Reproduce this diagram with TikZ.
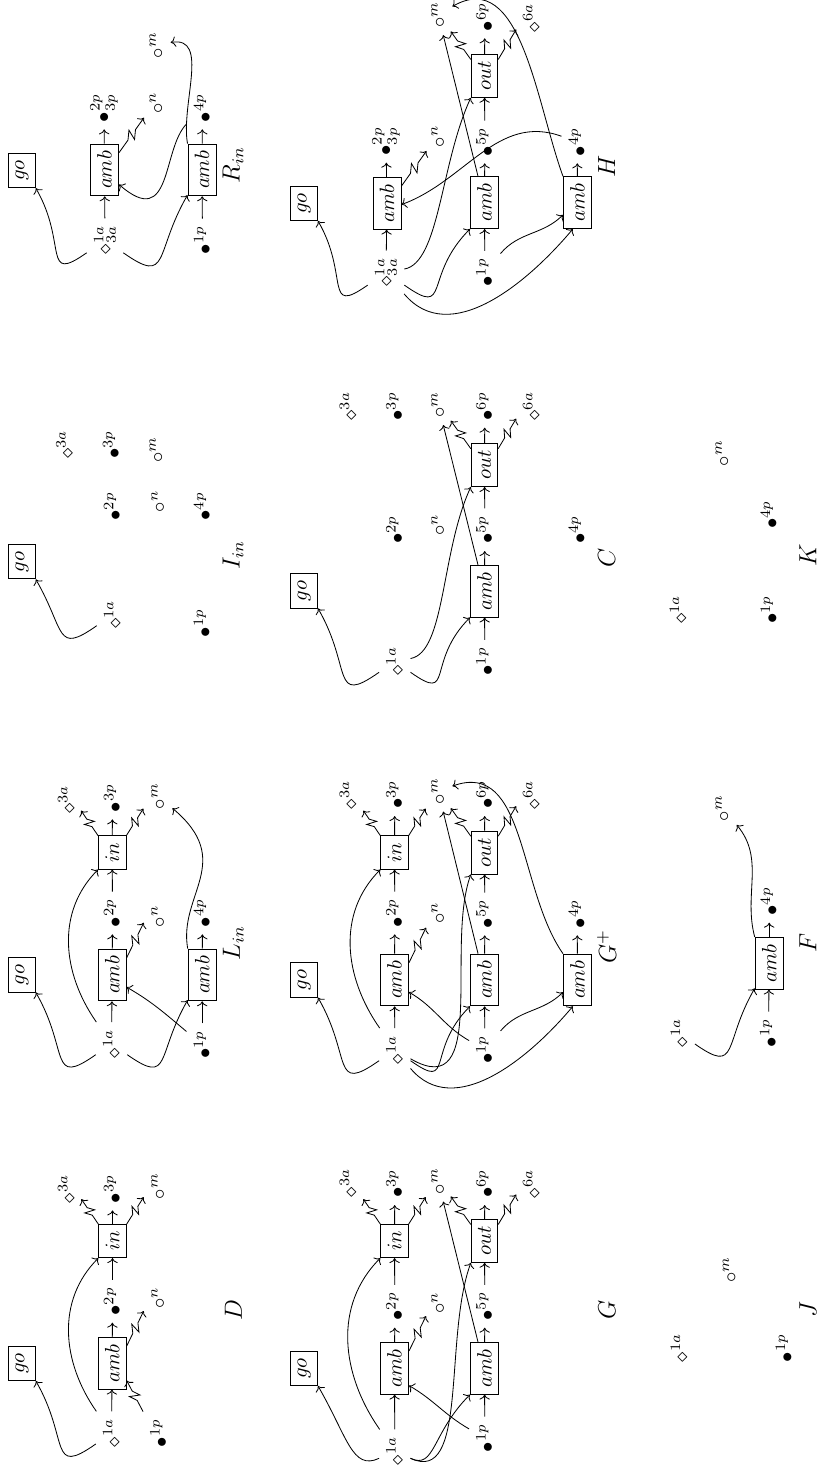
\documentclass[tikz,border=0pt]{standalone}
\usetikzlibrary{calc,arrows.meta}
\begin{document}
\begin{tikzpicture}[x=0.4831pt, y=0.4831pt, rotate=90, transform shape,
  >={Computer Modern Rightarrow[length=2.4pt,width=5pt]},
  box/.style={draw, inner sep=3.33pt},
  lab/.style={inner sep=3.33pt},
  ttl/.style={font=\fontsize{12}{14}\selectfont, inner sep=1pt},
  zz/.style={->, to path={-- ($(\tikztostart)!0.36!(\tikztotarget)$)
     -- ($(\tikztostart)!0.56!(\tikztotarget)!2.4pt!90:(\tikztotarget)$)
     -- ($(\tikztostart)!0.46!(\tikztotarget)!2.4pt!-90:(\tikztotarget)$)
     -- ($(\tikztostart)!0.66!(\tikztotarget)$) -- (\tikztotarget)}},
  hookup/.style={out=125, in=210, out looseness=1.7, in looseness=2},
  hookdn/.style={out=-125, in=150, out looseness=1.7, in looseness=2}]
\useasboundingbox (0,0) rectangle (1466,-821);

% ---------------- D
\node[box] (D-go) at (102.7,-22) {$go$};
\node[lab] (D-a1) at (33,-111.5) {$\diamond^{1a}$};
\node[box] (D-amb) at (102.7,-112.2) {$amb$};
\node[lab] (D-p2) at (164.7,-112.5) {$\bullet^{2p}$};
\node[box] (D-in) at (225,-112.5) {$in$};
\node[lab] (D-p3) at (277,-112.5) {$\bullet^{3p}$};
\node[lab] (D-a3) at (277,-66.5) {$\diamond^{3a}$};
\node[lab] (D-m) at (279.7,-158.2) {$\circ^{m}$};
\node[lab] (D-n) at (168,-158.2) {$\circ^{n}$};
\node[lab] (D-p1) at (33,-158.8) {$\bullet^{1p}$};
\node[ttl] (D-t) at (156,-233.3) {$D$};
\coordinate (D-z1) at ($(D-amb.-40)+(35,-17)$);
\coordinate (D-z2) at ($(D-in.40)+(25,17)$);
\coordinate (D-z3) at ($(D-in.-40)+(27,-17)$);
\draw[->] (D-a1) -- (D-amb);
\draw[->] (D-amb) -- (D-p2);
\draw[->] (D-p2) -- (D-in);
\draw[->] (D-in) -- (D-p3);
\draw[->] (D-a1) to[hookup] (D-go.south west);
\draw[->] (D-a1) to[out=35,in=135] (D-in.north west);
\draw[zz] (D-amb.-40) to (D-z1);
\draw[zz] (D-in.40) to (D-z2);
\draw[zz] (D-in.-40) to (D-z3);
\draw[zz] (D-p1.north east) to (D-amb.-140);

% ---------------- L_in
\node[box] (L-go) at (491.2,-22) {$go$};
\node[lab] (L-a1) at (422.3,-111.5) {$\diamond^{1a}$};
\node[box] (L-amb1) at (491,-112.2) {$amb$};
\node[lab] (L-p2) at (553,-112.5) {$\bullet^{2p}$};
\node[box] (L-in) at (613.5,-112.2) {$in$};
\node[lab] (L-p3) at (668,-112.5) {$\bullet^{3p}$};
\node[lab] (L-a3) at (666.3,-66.5) {$\diamond^{3a}$};
\node[lab] (L-m) at (669.7,-158.2) {$\circ^{m}$};
\node[lab] (L-n) at (549.7,-158.2) {$\circ^{n}$};
\node[lab] (L-p1) at (421.3,-202.2) {$\bullet^{1p}$};
\node[box] (L-amb2) at (491,-202.2) {$amb$};
\node[lab] (L-p4) at (553,-202.5) {$\bullet^{4p}$};
\node[ttl] (L-t) at (522.7,-233.3) {$L_{in}$};
\coordinate (L-z1) at ($(L-amb1.-40)+(35,-17)$);
\coordinate (L-z2) at ($(L-in.40)+(25,17)$);
\coordinate (L-z3) at ($(L-in.-40)+(27,-17)$);
\draw[->] (L-a1) -- (L-amb1);
\draw[->] (L-amb1) -- (L-p2);
\draw[->] (L-p2) -- (L-in);
\draw[->] (L-in) -- (L-p3);
\draw[->] (L-p1) -- (L-amb2);
\draw[->] (L-amb2) -- (L-p4);
\draw[->] (L-a1) to[hookup] (L-go.south west);
\draw[->] (L-a1) to[out=35,in=135] (L-in.north west);
\draw[->] (L-a1) to[hookdn] (L-amb2.150);
\draw[->] (L-p1) to[out=50,in=-120] (L-amb1.-130);
\draw[->] (L-amb2.north east) to[out=10,in=230,in looseness=1.5] (L-m);
\draw[zz] (L-amb1.-40) to (L-z1);
\draw[zz] (L-in.40) to (L-z2);
\draw[zz] (L-in.-40) to (L-z3);

% ---------------- I_in
\node[box] (I-go) at (904.3,-22) {$go$};
\node[lab] (I-a1) at (851.3,-112.5) {$\diamond^{1a}$};
\node[lab] (I-p2) at (959.7,-112.5) {$\bullet^{2p}$};
\node[lab] (I-p3) at (1021.3,-111.5) {$\bullet^{3p}$};
\node[lab] (I-a3) at (1021.3,-64.8) {$\diamond^{3a}$};
\node[lab] (I-n) at (964.7,-158.2) {$\circ^{n}$};
\node[lab] (I-m) at (1016.3,-156.5) {$\circ^{m}$};
\node[lab] (I-p1) at (843,-202.2) {$\bullet^{1p}$};
\node[lab] (I-p4) at (959.7,-202.5) {$\bullet^{4p}$};
\node[ttl] (I-t) at (911,-233) {$I_{in}$};
\draw[->] (I-a1) to[hookup] (I-go.south west);

% ---------------- R_in
\node[box] (R-go) at (1295.5,-22) {$go$};
\node[lab] (R-a13) at (1226,-105) {$\diamond^{1a}_{3a}$};
\node[box] (R-amb1) at (1296,-104.5) {$amb$};
\node[lab] (R-p23) at (1358,-104) {$\bullet^{2p}_{3p}$};
\node[lab] (R-n) at (1363,-156.5) {$\circ^{n}$};
\node[lab] (R-m) at (1421,-156.5) {$\circ^{m}$};
\node[lab] (R-p1) at (1226,-202.5) {$\bullet^{1p}$};
\node[box] (R-amb2) at (1296,-202) {$amb$};
\node[lab] (R-p4) at (1358,-202.5) {$\bullet^{4p}$};
\node[ttl] (R-t) at (1301,-233) {$R_{in}$};
\coordinate (R-z1) at ($(R-amb1.-40)+(35,-25)$);
\draw[->] (R-a13) -- (R-amb1);
\draw[->] (R-amb1) -- (R-p23);
\draw[->] (R-p1) -- (R-amb2);
\draw[->] (R-amb2) -- (R-p4);
\draw[->] (R-a13) to[hookup] (R-go.south west);
\draw[->] (R-a13) to[hookdn] (R-amb2.150);
\draw[->] (R-amb2.north east) to[out=10,in=-80] (R-m);
\draw[->] (R-p4) to[out=135,in=229,in looseness=2] (R-amb1.-135);
\draw[zz] (R-amb1.-40) to (R-z1);

% ---------------- G
\node[box] (G-go) at (97.7,-304.2) {$go$};
\node[lab] (G-a1) at (15,-394.8) {$\diamond^{1a}$};
\node[box] (G-amb1) at (97.7,-394.5) {$amb$};
\node[lab] (G-p2) at (159.7,-394.8) {$\bullet^{2p}$};
\node[box] (G-in) at (225,-394.5) {$in$};
\node[lab] (G-p3) at (282.3,-394.8) {$\bullet^{3p}$};
\node[lab] (G-a3) at (283,-348.2) {$\diamond^{3a}$};
\node[lab] (G-m) at (284.7,-438.2) {$\circ^{m}$};
\node[lab] (G-n) at (163,-438.2) {$\circ^{n}$};
\node[lab] (G-p1) at (28,-484.8) {$\bullet^{1p}$};
\node[box] (G-amb2) at (97.7,-484.5) {$amb$};
\node[lab] (G-p5) at (159.7,-484.8) {$\bullet^{5p}$};
\node[box] (G-out) at (225.2,-484.5) {$out$};
\node[lab] (G-p6) at (282.3,-484.8) {$\bullet^{6p}$};
\node[lab] (G-a6) at (282.3,-531.5) {$\diamond^{6a}$};
\node[ttl] (G-t) at (156,-607) {$G$};
\coordinate (G-z1) at ($(G-amb1.-40)+(35,-17)$);
\coordinate (G-z2) at ($(G-in.40)+(25,17)$);
\coordinate (G-z3) at ($(G-in.-40)+(27,-17)$);
\coordinate (G-z4) at ($(G-out.40)+(28,20)$);
\coordinate (G-z5) at ($(G-out.-40)+(30,-18)$);
\draw[->] (G-a1) -- (G-amb1);
\draw[->] (G-amb1) -- (G-p2);
\draw[->] (G-p2) -- (G-in);
\draw[->] (G-in) -- (G-p3);
\draw[->] (G-p1) -- (G-amb2);
\draw[->] (G-amb2) -- (G-p5);
\draw[->] (G-p5) -- (G-out);
\draw[->] (G-out) -- (G-p6);
\draw[->] (G-a1) to[out=115,in=210,out looseness=0.8,in looseness=1.6] (G-go.south west);
\draw[->] (G-a1) to[out=35,in=135] (G-in.north west);
\draw[->] (G-a1) to[out=-115,in=160,out looseness=0.8] (G-out.north west);
\draw[->] (G-a1) to[out=-115,in=135,out looseness=0.8,in looseness=1.6] (G-amb2.north west);
\draw[->] (G-p1) to[out=60,in=-120] (G-amb1.-140);
\draw[->] (G-amb2) -- (G-m);
\draw[zz] (G-amb1.-40) to (G-z1);
\draw[zz] (G-in.40) to (G-z2);
\draw[zz] (G-in.-40) to (G-z3);
\draw[zz] (G-out.40) to (G-z4);
\draw[zz] (G-out.-40) to (G-z5);

% ---------------- G+
\node[box] (P-go) at (486,-304.2) {$go$};
\node[lab] (P-a1) at (416.3,-394.8) {$\diamond^{1a}$};
\node[box] (P-amb1) at (486,-394.5) {$amb$};
\node[lab] (P-p2) at (553,-394.8) {$\bullet^{2p}$};
\node[box] (P-in) at (613.5,-394.5) {$in$};
\node[lab] (P-p3) at (671.3,-394.8) {$\bullet^{3p}$};
\node[lab] (P-a3) at (671.3,-348.2) {$\diamond^{3a}$};
\node[lab] (P-m) at (674.7,-438.2) {$\circ^{m}$};
\node[lab] (P-n) at (553,-438.2) {$\circ^{n}$};
\node[lab] (P-p1) at (416.3,-484.8) {$\bullet^{1p}$};
\node[box] (P-amb2) at (486,-484.5) {$amb$};
\node[lab] (P-p5) at (552,-484.8) {$\bullet^{5p}$};
\node[box] (P-out) at (613.5,-484.5) {$out$};
\node[lab] (P-p6) at (671.3,-484.8) {$\bullet^{6p}$};
\node[lab] (P-a6) at (671.3,-531.5) {$\diamond^{6a}$};
\node[box] (P-amb3) at (486,-577.5) {$amb$};
\node[lab] (P-p4) at (552,-577.2) {$\bullet^{4p}$};
\node[ttl] (P-t) at (519.3,-606.7) {$G^{+}$};
\coordinate (P-z1) at ($(P-amb1.-40)+(35,-17)$);
\coordinate (P-z2) at ($(P-in.40)+(25,17)$);
\coordinate (P-z3) at ($(P-in.-40)+(27,-17)$);
\coordinate (P-z4) at ($(P-out.40)+(28,20)$);
\coordinate (P-z5) at ($(P-out.-40)+(30,-18)$);
\draw[->] (P-a1) -- (P-amb1);
\draw[->] (P-amb1) -- (P-p2);
\draw[->] (P-p2) -- (P-in);
\draw[->] (P-in) -- (P-p3);
\draw[->] (P-p1) -- (P-amb2);
\draw[->] (P-amb2) -- (P-p5);
\draw[->] (P-p5) -- (P-out);
\draw[->] (P-out) -- (P-p6);
\draw[->] (P-amb3) -- (P-p4);
\draw[->] (P-a1) to[hookup] (P-go.south west);
\draw[->] (P-a1) to[out=35,in=135] (P-in.north west);
\draw[->] (P-a1) to[out=-120,in=160,out looseness=1.2] (P-out.north west);
\draw[->] (P-a1) to[hookdn,in=135] (P-amb2.north west);
\draw[->] (P-a1) to[out=220,in=140] (P-amb3.170);
\draw[->] (P-p1) to[out=-40,in=135] (P-amb3.130);
\draw[->] (P-p1) to[out=60,in=-120] (P-amb1.-130);
\draw[->] (P-amb2) -- (P-m);
\draw[->] (P-amb3.north east) to[out=35,in=-70] (P-m);
\draw[zz] (P-amb1.-40) to (P-z1);
\draw[zz] (P-in.40) to (P-z2);
\draw[zz] (P-in.-40) to (P-z3);
\draw[zz] (P-out.40) to (P-z4);
\draw[zz] (P-out.-40) to (P-z5);

% ---------------- C
\node[box] (C-go) at (875.2,-304.2) {$go$};
\node[lab] (C-a1) at (804.7,-394.8) {$\diamond^{1a}$};
\node[lab] (C-p2) at (936.3,-394.8) {$\bullet^{2p}$};
\node[lab] (C-a3) at (1059.7,-348.2) {$\diamond^{3a}$};
\node[lab] (C-p3) at (1059.7,-394.8) {$\bullet^{3p}$};
\node[lab] (C-n) at (941.3,-438.2) {$\circ^{n}$};
\node[lab] (C-m) at (1061.3,-438.2) {$\circ^{m}$};
\node[lab] (C-p1) at (804.7,-484.8) {$\bullet^{1p}$};
\node[box] (C-amb2) at (874.8,-484.5) {$amb$};
\node[lab] (C-p5) at (936.3,-484.8) {$\bullet^{5p}$};
\node[box] (C-out) at (1001,-484.5) {$out$};
\node[lab] (C-p6) at (1059.7,-484.8) {$\bullet^{6p}$};
\node[lab] (C-a6) at (1059.7,-531.5) {$\diamond^{6a}$};
\node[lab] (C-p4) at (936.3,-577.2) {$\bullet^{4p}$};
\node[ttl] (C-t) at (907.7,-606.7) {$C$};
\coordinate (C-z4) at ($(C-out.40)+(28,20)$);
\coordinate (C-z5) at ($(C-out.-40)+(30,-18)$);
\draw[->] (C-p1) -- (C-amb2);
\draw[->] (C-amb2) -- (C-p5);
\draw[->] (C-p5) -- (C-out);
\draw[->] (C-out) -- (C-p6);
\draw[->] (C-a1) to[hookup] (C-go.south west);
\draw[->] (C-a1) to[out=-80,in=155,out looseness=0.5] (C-out.north west);
\draw[->] (C-a1) to[hookdn,in=135] (C-amb2.north west);
\draw[->] (C-amb2) -- (C-m);
\draw[zz] (C-out.40) to (C-z4);
\draw[zz] (C-out.-40) to (C-z5);

% ---------------- H
\node[box] (H-go) at (1262.7,-304.2) {$go$};
\node[lab] (H-a13) at (1193.7,-386) {$\diamond^{1a}_{3a}$};
\node[box] (H-amb1) at (1262.7,-387) {$amb$};
\node[lab] (H-p23) at (1324.7,-386) {$\bullet^{2p}_{3p}$};
\node[lab] (H-n) at (1329.7,-438.2) {$\circ^{n}$};
\node[lab] (H-m) at (1451.3,-438.2) {$\circ^{m}$};
\node[lab] (H-p1) at (1193.7,-484.8) {$\bullet^{1p}$};
\node[box] (H-amb2) at (1263.3,-484.5) {$amb$};
\node[lab] (H-p5) at (1324,-484.8) {$\bullet^{5p}$};
\node[box] (H-out) at (1390.2,-484.5) {$out$};
\node[lab] (H-p6) at (1449,-484.8) {$\bullet^{6p}$};
\node[lab] (H-a6) at (1448,-531.5) {$\diamond^{6a}$};
\node[box] (H-amb3) at (1263.3,-577.5) {$amb$};
\node[lab] (H-p4) at (1324,-577.2) {$\bullet^{4p}$};
\node[ttl] (H-t) at (1299.3,-606.7) {$H$};
\coordinate (H-z1) at ($(H-amb1.-40)+(35,-25)$);
\coordinate (H-z4) at ($(H-out.40)+(28,20)$);
\coordinate (H-z5) at ($(H-out.-40)+(30,-18)$);
\draw[->] (H-a13) -- (H-amb1);
\draw[->] (H-amb1) -- (H-p23);
\draw[->] (H-p1) -- (H-amb2);
\draw[->] (H-amb2) -- (H-p5);
\draw[->] (H-p5) -- (H-out);
\draw[->] (H-out) -- (H-p6);
\draw[->] (H-amb3) -- (H-p4);
\draw[->] (H-a13) to[hookup] (H-go.south west);
\draw[->] (H-a13) to[out=-80,in=155,out looseness=0.5] (H-out.north west);
\draw[->] (H-a13) to[hookdn,in=135] (H-amb2.north west);
\draw[->] (H-a13) to[out=220,in=140] (H-amb3.170);
\draw[->] (H-p1) to[out=-40,in=135] (H-amb3.130);
\draw[->] (H-p4) to[out=70,in=-70] (H-amb1.-95);
\draw[->] (H-amb2) -- (H-m);
\draw[->] (H-amb3.north east) to[out=20,in=-60] (H-m);
\draw[zz] (H-amb1.-40) to (H-z1);
\draw[zz] (H-out.40) to (H-z4);
\draw[zz] (H-out.-40) to (H-z5);

% ---------------- J
\node[lab] (J-a1) at (118,-679.2) {$\diamond^{1a}$};
\node[lab] (J-p1) at (118,-784.2) {$\bullet^{1p}$};
\node[lab] (J-m) at (196.3,-729.8) {$\circ^{m}$};
\node[ttl] (J-t) at (156,-808) {$J$};

% ---------------- F
\node[lab] (F-a1) at (433,-679.2) {$\diamond^{1a}$};
\node[lab] (F-p1) at (433,-768.5) {$\bullet^{1p}$};
\node[box] (F-amb) at (502.7,-769.2) {$amb$};
\node[lab] (F-p4) at (564.7,-769.2) {$\bullet^{4p}$};
\node[lab] (F-m) at (658,-722.5) {$\circ^{m}$};
\node[ttl] (F-t) at (522.7,-808) {$F$};
\draw[->] (F-p1) -- (F-amb);
\draw[->] (F-amb) -- (F-p4);
\draw[->] (F-a1) to[hookdn] (F-amb.150);
\draw[->] (F-amb.north east) to[out=15,in=220] (F-m);

% ---------------- K
\node[lab] (K-a1) at (856.3,-678.2) {$\diamond^{1a}$};
\node[lab] (K-p1) at (856.3,-769.2) {$\bullet^{1p}$};
\node[lab] (K-p4) at (951.3,-769.2) {$\bullet^{4p}$};
\node[lab] (K-m) at (1013,-722.5) {$\circ^{m}$};
\node[ttl] (K-t) at (911,-808) {$K$};
\end{tikzpicture}
\end{document}
